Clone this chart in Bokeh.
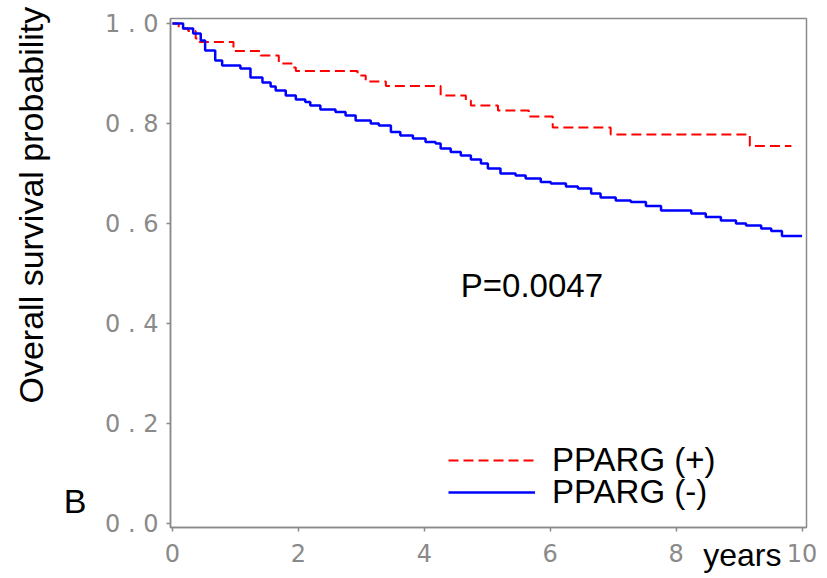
from bokeh.plotting import figure
from bokeh.models import Label, Legend, LegendItem, FixedTicker, LinearAxis, Title
from bokeh.embed import file_html
from bokeh.resources import INLINE

# PPARG (+) Kaplan-Meier steps (years, survival)
pos_time = [0.0, 0.10, 0.25, 0.37, 0.43, 0.97, 1.40, 1.69, 1.92, 1.96, 2.94, 3.07,
            3.39, 4.26, 4.66, 4.74, 5.17, 5.66, 6.04, 6.96, 9.17, 9.83]
pos_surv = [1.0, 0.99, 0.985, 0.97, 0.963, 0.945, 0.936, 0.92, 0.912, 0.905, 0.896, 0.884,
            0.875, 0.856, 0.846, 0.836, 0.826, 0.814, 0.792, 0.778, 0.755, 0.755]

# PPARG (-) Kaplan-Meier steps (years, survival)
neg_time = [0.0, 0.17, 0.33, 0.45, 0.52, 0.68, 0.79, 1.08, 1.24, 1.43, 1.56, 1.64,
            1.80, 1.96, 2.11, 2.19, 2.35, 2.59, 2.75, 2.91, 3.15, 3.28, 3.47, 3.62,
            3.82, 4.02, 4.18, 4.26, 4.42, 4.58, 4.74, 4.90, 5.01, 5.21, 5.45, 5.61,
            5.85, 6.01, 6.25, 6.44, 6.65, 6.80, 7.04, 7.28, 7.52, 7.76, 8.24, 8.47,
            8.71, 8.95, 9.11, 9.35, 9.51, 9.68, 10.0]
neg_surv = [1.0, 0.99, 0.98, 0.966, 0.946, 0.926, 0.916, 0.91, 0.892, 0.882, 0.874, 0.866,
            0.856, 0.848, 0.843, 0.836, 0.828, 0.823, 0.816, 0.806, 0.80, 0.796, 0.783, 0.776,
            0.77, 0.763, 0.76, 0.75, 0.743, 0.736, 0.728, 0.72, 0.71, 0.70, 0.696, 0.69,
            0.683, 0.68, 0.674, 0.67, 0.66, 0.652, 0.646, 0.643, 0.635, 0.626, 0.62, 0.613,
            0.606, 0.60, 0.596, 0.59, 0.585, 0.575, 0.575]

x_ticks = [0, 2, 4, 6, 8, 10]
x_tick_labels = ["0", "2", "4", "6", "8", "10"]
y_ticks = [0.0, 0.2, 0.4, 0.6, 0.8, 1.0]
y_tick_labels = ["0 . 0", "0 . 2", "0 . 4", "0 . 6", "0 . 8", "1 . 0"]

series_labels = ["PPARG (+)", "PPARG (-)"]
p_value_text = "P=0.0047"
y_title = "Overall survival probability"
x_unit_text = "years"
panel_tag = "B"

FONT = "Liberation Sans"
GRAY = "#8a8a8a"

p = figure(width=827, height=578, x_range=(-0.03, 10.07), y_range=(-0.008, 1.01),
           output_backend="svg", toolbar_location=None,
           min_border_left=170, min_border_right=21, min_border_top=18, min_border_bottom=51)
p.grid.visible = False
p.outline_line_color = GRAY
p.outline_line_width = 1.5
p.background_fill_color = "white"
p.border_fill_color = "white"

for ax in (p.xaxis[0], p.yaxis[0]):
    ax.axis_line_color = GRAY
    ax.axis_line_width = 1.5
    ax.major_tick_line_color = GRAY
    ax.major_tick_line_width = 1.5
    ax.major_tick_out = 4
    ax.major_tick_in = 0
    ax.minor_tick_line_color = None
    ax.major_label_text_color = GRAY
    ax.major_label_text_font = "DejaVu Sans"
    ax.major_label_text_font_size = "24px"

p.xaxis.ticker = FixedTicker(ticks=x_ticks)
p.xaxis.major_label_overrides = {t: l for t, l in zip(x_ticks, x_tick_labels)}
p.xaxis.major_label_standoff = 12
p.yaxis.ticker = FixedTicker(ticks=y_ticks)
p.yaxis.major_label_overrides = {t: l for t, l in zip(y_ticks, y_tick_labels)}
p.yaxis.major_label_standoff = 8


def text_axis(tick, label, size, standoff):
    ax = LinearAxis(ticker=FixedTicker(ticks=[tick]),
                    major_label_overrides={tick: label})
    ax.axis_line_color = None
    ax.major_tick_line_color = None
    ax.minor_tick_line_color = None
    ax.major_tick_out = 0
    ax.major_tick_in = 0
    ax.major_label_standoff = standoff
    ax.major_label_text_font = FONT
    ax.major_label_text_font_size = size
    ax.major_label_text_color = "black"
    return ax


# "B" panel tag, left of the y tick labels
p.add_layout(text_axis(0.046, panel_tag, "34px", 16), "left")
# y axis title
p.add_layout(Title(text=y_title, align="left", offset=124, vertical_align="middle",
                   standoff=20, text_font=FONT, text_font_size="34px",
                   text_font_style="normal", text_color="black"), "left")
# "years" next to the last x ticks
p.add_layout(text_axis(9.05, x_unit_text, "32px", -28), "below")

r_pos = p.step(pos_time, pos_surv, mode="after", line_color="#ff0000", line_width=2,
               line_dash="10 5")
r_neg = p.step(neg_time, neg_surv, mode="after", line_color="#0000ff", line_width=2.5)

legend_kw = dict(orientation="vertical", glyph_width=87, glyph_height=20, label_standoff=17,
                 label_text_font=FONT, label_text_font_size="33px", label_text_color="black",
                 padding=0, margin=0, border_line_color=None, background_fill_alpha=0)
legend1 = Legend(items=[LegendItem(label=series_labels[0], renderers=[r_pos])],
                 location=(278, 48), **legend_kw)
legend2 = Legend(items=[LegendItem(label=series_labels[1], renderers=[r_neg])],
                 location=(278, 16), **legend_kw)
p.add_layout(legend1)
p.add_layout(legend2)

p.add_layout(Label(x=4.58, y=0.476, text=p_value_text, text_font=FONT,
                   text_font_size="33px", text_align="left", text_baseline="middle",
                   text_color="black"))

open("out.html", "w").write(file_html(p, INLINE))
